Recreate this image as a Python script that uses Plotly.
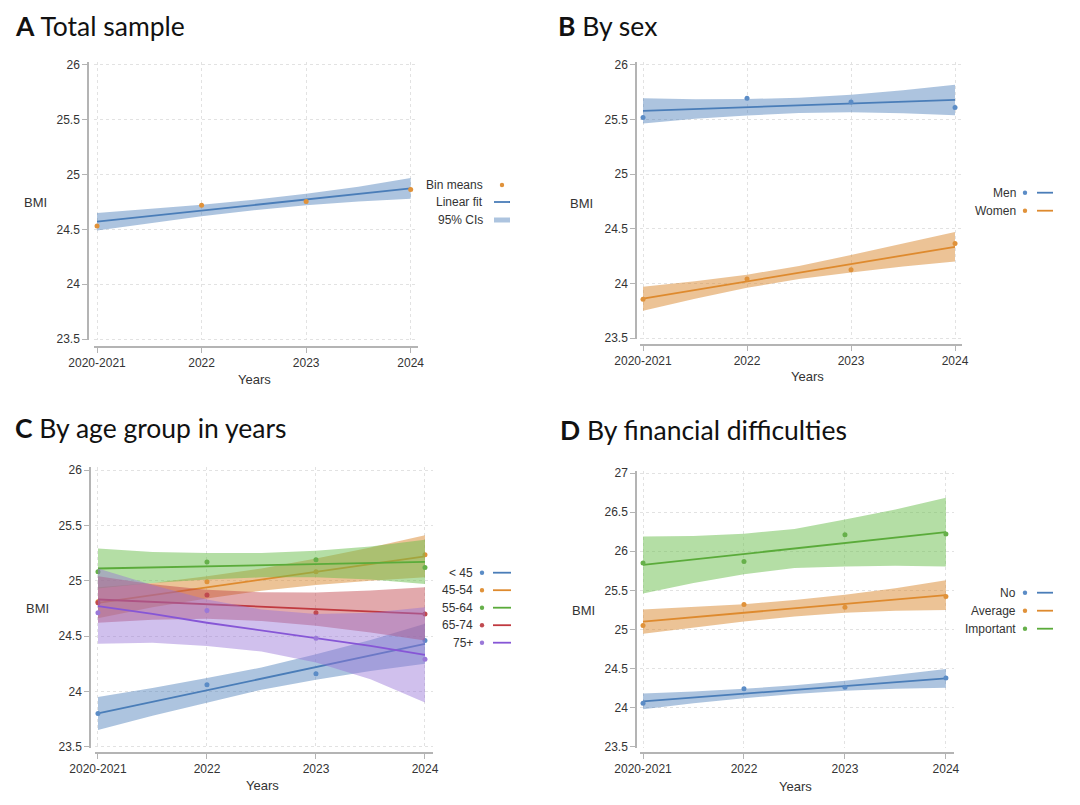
import plotly.graph_objects as go

W, H = 1080, 805

# ---------------- data ----------------
year_labels = ["2020-2021", "2022", "2023", "2024"]
year_pos = [0, 1, 2, 3]
band_pos = [0, 0.5, 1, 1.5, 2, 2.5, 3]

# A: total sample
a_means = [24.53, 24.72, 24.755, 24.865]
a_fit = [24.57, 24.62, 24.67, 24.72, 24.77, 24.82, 24.875]
a_lo = [24.49, 24.555, 24.62, 24.675, 24.72, 24.755, 24.78]
a_hi = [24.65, 24.685, 24.725, 24.77, 24.825, 24.89, 24.97]

# B: by sex
b_groups = ["Men", "Women"]
b_means = {"Men": [25.52, 25.695, 25.66, 25.61],
           "Women": [23.855, 24.04, 24.125, 24.365]}
b_fit = {"Men": [25.58, 25.597, 25.613, 25.63, 25.647, 25.663, 25.68],
         "Women": [23.86, 23.94, 24.02, 24.10, 24.18, 24.26, 24.335]}
b_half = {"Men": [0.115, 0.09, 0.075, 0.07, 0.08, 0.105, 0.14],
          "Women": [0.11, 0.08, 0.06, 0.06, 0.08, 0.105, 0.135]}

# C: by age group
c_groups = ["< 45", "45-54", "55-64", "65-74", "75+"]
c_means = {"< 45": [23.80, 24.06, 24.16, 24.46],
           "45-54": [24.81, 24.99, 25.08, 25.235],
           "55-64": [25.08, 25.17, 25.19, 25.12],
           "65-74": [24.80, 24.87, 24.71, 24.70],
           "75+": [24.71, 24.73, 24.48, 24.29]}
c_fit = {"< 45": [23.80, 23.905, 24.01, 24.115, 24.22, 24.325, 24.43],
         "45-54": [24.80, 24.87, 24.94, 25.01, 25.08, 25.15, 25.22],
         "55-64": [25.11, 25.12, 25.13, 25.14, 25.15, 25.16, 25.17],
         "65-74": [24.83, 24.808, 24.787, 24.765, 24.743, 24.722, 24.70],
         "75+": [24.77, 24.70, 24.62, 24.55, 24.48, 24.41, 24.33]}
c_half = {"< 45": [0.15, 0.125, 0.11, 0.10, 0.115, 0.14, 0.18],
          "45-54": [0.14, 0.11, 0.10, 0.10, 0.12, 0.15, 0.19],
          "55-64": [0.18, 0.14, 0.12, 0.11, 0.12, 0.15, 0.20],
          "65-74": [0.21, 0.16, 0.13, 0.13, 0.15, 0.19, 0.24],
          "75+": [0.34, 0.26, 0.21, 0.19, 0.22, 0.30, 0.43]}

# D: by financial difficulties
d_groups = ["No", "Average", "Important"]
d_means = {"No": [24.055, 24.24, 24.26, 24.38],
           "Average": [25.05, 25.32, 25.285, 25.42],
           "Important": [25.85, 25.87, 26.21, 26.22]}
d_fit = {"No": [24.08, 24.13, 24.18, 24.23, 24.28, 24.33, 24.375],
         "Average": [25.10, 25.157, 25.213, 25.27, 25.327, 25.383, 25.44],
         "Important": [25.825, 25.895, 25.965, 26.035, 26.105, 26.175, 26.245]}
d_half = {"No": [0.10, 0.075, 0.06, 0.055, 0.065, 0.09, 0.12],
          "Average": [0.155, 0.13, 0.11, 0.105, 0.115, 0.145, 0.19],
          "Important": [0.365, 0.30, 0.26, 0.25, 0.30, 0.36, 0.44]}

ab_ticks = [23.5, 24, 24.5, 25, 25.5, 26]
d_ticks = [23.5, 24, 24.5, 25, 25.5, 26, 26.5, 27]

# ---------------- styles ----------------
PAL = {
    "blue": ("#4a7db8", "rgba(74,125,184,0.45)", "#5b8cc6"),
    "orange": ("#de8a2e", "rgba(218,135,45,0.50)", "#e0923a"),
    "green": ("#5aab3a", "rgba(105,190,75,0.50)", "#66b04a"),
    "red": ("#c0393f", "rgba(190,65,70,0.45)", "#c04a50"),
    "purple": ("#8656d6", "rgba(150,115,215,0.45)", "#9a78d8"),
}
order = ["blue", "orange", "green", "red", "purple"]

def X(px):
    return px / W

def Y(py):
    return 1 - py / H

fig = go.Figure()

TICKFONT = dict(family="Liberation Sans, Arial, sans-serif", size=12, color="#333")

def add_group(ax, means, fit, lo, hi, ckey, dot_key=None):
    line_c, band_c, dot_c = PAL[ckey]
    if dot_key is not None:
        dot_c = PAL[dot_key][2]
    xr, yr = ("x" if ax == 1 else f"x{ax}"), ("y" if ax == 1 else f"y{ax}")
    fig.add_trace(go.Scatter(
        x=band_pos + band_pos[::-1], y=hi + lo[::-1], fill="toself",
        fillcolor=band_c, line=dict(width=0), mode="lines",
        hoverinfo="skip", showlegend=False, xaxis=xr, yaxis=yr))
    fig.add_trace(go.Scatter(
        x=band_pos, y=fit, mode="lines", line=dict(color=line_c, width=1.8),
        showlegend=False, xaxis=xr, yaxis=yr))
    fig.add_trace(go.Scatter(
        x=year_pos, y=means, mode="markers",
        marker=dict(color=dot_c, size=5), showlegend=False, xaxis=xr, yaxis=yr))

# Panel A
add_group(1, a_means, a_fit, a_lo, a_hi, "blue", dot_key="orange")
# Panel B
for i, g in enumerate(b_groups):
    lo = [f - h for f, h in zip(b_fit[g], b_half[g])]
    hi = [f + h for f, h in zip(b_fit[g], b_half[g])]
    add_group(2, b_means[g], b_fit[g], lo, hi, order[i])
# Panel C
for i, g in enumerate(c_groups):
    lo = [f - h for f, h in zip(c_fit[g], c_half[g])]
    hi = [f + h for f, h in zip(c_fit[g], c_half[g])]
    add_group(3, c_means[g], c_fit[g], lo, hi, order[i])
# Panel D
for i, g in enumerate(d_groups):
    lo = [f - h for f, h in zip(d_fit[g], d_half[g])]
    hi = [f + h for f, h in zip(d_fit[g], d_half[g])]
    add_group(4, d_means[g], d_fit[g], lo, hi, order[i])

# panel geometry in pixels
panels = {
    1: (93.9, 418.0, 61.7, 340.1, 88, 347, [-0.03, 3.07], [23.49, 26.03], ab_ticks),
    2: (639.9, 962.3, 61.7, 339.1, 636, 345, [-0.03, 3.07], [23.49, 26.03], ab_ticks),
    3: (94.7, 432.6, 466.7, 747.8, 90, 753, [-0.03, 3.07], [23.49, 26.03], ab_ticks),
    4: (640.0, 954.0, 470.7, 747.5, 636, 753, [-0.03, 3.08], [23.49, 27.03], d_ticks),
}

layout_axes = {}
for k, (xl, xrp, yt, yb, yax, xax, xrng, yrng, yt_vals) in panels.items():
    sx = "xaxis" if k == 1 else f"xaxis{k}"
    sy = "yaxis" if k == 1 else f"yaxis{k}"
    common = dict(
        tickfont=TICKFONT, showline=True, linecolor="#b4b4b4", linewidth=1.5,
        ticks="outside", ticklen=5, tickcolor="#b4b4b4", tickwidth=1.2,
        showgrid=True, gridcolor="#e2e2e2", griddash="dot", gridwidth=1,
        zeroline=False, fixedrange=True, automargin=False, anchor="free",
    )
    layout_axes[sx] = dict(domain=[X(xl), X(xrp)], range=xrng, position=Y(xax),
                           tickvals=year_pos, ticktext=year_labels, **common)
    layout_axes[sy] = dict(domain=[Y(yb), Y(yt)], range=yrng, position=X(yax),
                           tickvals=yt_vals, ticktext=[f"{v:g}" for v in yt_vals], **common)

annotations = []
shapes = []

TITLE_FONT = dict(family="Lato, Open Sans, sans-serif", size=26.5, color="#111")
titles = [
    ("<b>A</b> Total sample", 13, 26),
    ("<b>B</b> By sex", 556, 26),
    ("<b>C</b> By age group in years", 13, 428),
    ("<b>D</b> By financial difficulties", 558, 430),
]
for t, px, py in titles:
    annotations.append(dict(text=t, x=X(px), y=Y(py), xref="paper", yref="paper",
                            xanchor="left", yanchor="middle", showarrow=False,
                            font=TITLE_FONT))

LABFONT = dict(family="Liberation Sans, Arial, sans-serif", size=13, color="#333")
for bx, by, yx, yy in [(35, 202, 254, 379), (581, 203, 807, 377),
                       (37, 608, 262, 785), (583, 610, 795, 786)]:
    annotations.append(dict(text="BMI", x=X(bx), y=Y(by), xref="paper", yref="paper",
                            xanchor="center", yanchor="middle", showarrow=False, font=LABFONT))
    annotations.append(dict(text="Years", x=X(yx), y=Y(yy), xref="paper", yref="paper",
                            xanchor="center", yanchor="middle", showarrow=False, font=LABFONT))

LEGFONT = dict(family="Liberation Sans, Arial, sans-serif", size=12, color="#333")

def leg_text(txt, right_px, py):
    annotations.append(dict(text=txt, x=X(right_px), y=Y(py), xref="paper", yref="paper",
                            xanchor="right", yanchor="middle", showarrow=False, font=LEGFONT))

def leg_dot(cx, cy, color, r=2.2):
    shapes.append(dict(type="circle", xref="paper", yref="paper",
                       x0=X(cx - r), x1=X(cx + r), y0=Y(cy + r), y1=Y(cy - r),
                       fillcolor=color, line=dict(width=0)))

def leg_line(x0, x1, py, color, width=1.8):
    shapes.append(dict(type="line", xref="paper", yref="paper",
                       x0=X(x0), x1=X(x1), y0=Y(py), y1=Y(py),
                       line=dict(color=color, width=width)))

# Legend A
leg_text("Bin means", 485, 185); leg_dot(502, 185, PAL["orange"][2])
leg_text("Linear fit", 485, 202); leg_line(494, 510, 202, PAL["blue"][0])
leg_text("95% CIs", 485, 220); leg_line(494, 510, 220, PAL["blue"][1], width=5)

# Legend B
for i, (g, py) in enumerate(zip(b_groups, [192.7, 210.7])):
    leg_text(g, 1018, py); leg_dot(1025, py, PAL[order[i]][2]); leg_line(1037, 1053, py, PAL[order[i]][0])

# Legend C
for i, (g, py) in enumerate(zip(c_groups, [572.7, 590.2, 607.7, 625.2, 642.7])):
    leg_text(g, 475, py); leg_dot(482, py, PAL[order[i]][2]); leg_line(493, 511, py, PAL[order[i]][0])

# Legend D
for i, (g, py) in enumerate(zip(d_groups, [592.7, 610.7, 628.7])):
    leg_text(g, 1018, py); leg_dot(1025, py, PAL[order[i]][2]); leg_line(1037, 1053, py, PAL[order[i]][0])

fig.update_layout(
    width=W, height=H, margin=dict(l=0, r=0, t=0, b=0, pad=0, autoexpand=False),
    paper_bgcolor="white", plot_bgcolor="white",
    showlegend=False, annotations=annotations, shapes=shapes,
    **layout_axes,
)

fig.write_html("out.html", config={"displayModeBar": False},
               post_script="document.body.style.margin='0';document.body.style.overflow='hidden';")
